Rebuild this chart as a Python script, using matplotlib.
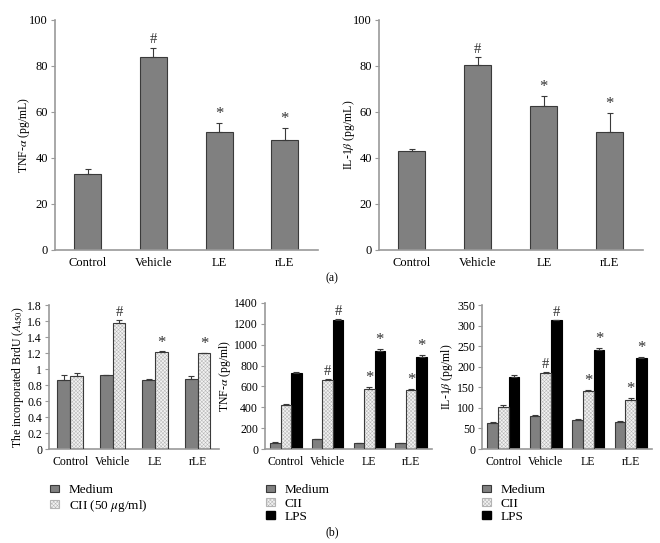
import matplotlib.pyplot as plt
import numpy as np
from matplotlib.patches import Patch

plt.rcParams['font.family'] = ['Liberation Serif', 'DejaVu Serif']
plt.rcParams['mathtext.fontset'] = 'stix'
plt.rcParams['hatch.linewidth'] = 0.35

groups = ['Control', 'Vehicle', 'LE', 'rLE']

# (a) single-series panels
tnf_a = [33, 84, 51.5, 48]
tnf_a_err = [2, 4, 3.5, 5]
tnf_a_marks = ['', '#', '*', '*']
il1_a = [43, 80.5, 62.5, 51.5]
il1_a_err = [1, 3.5, 4.5, 8]
il1_a_marks = ['', '#', '*', '*']

# (b) BrdU
brdu_medium = [0.86, 0.92, 0.86, 0.88]
brdu_medium_err = [0.07, 0.01, 0.02, 0.03]
brdu_cii = [0.91, 1.58, 1.21, 1.20]
brdu_cii_err = [0.04, 0.03, 0.01, 0.005]
brdu_cii_marks = ['', '#', '*', '*']

# (b) TNF-a
tnf_medium = [60, 95, 55, 55]
tnf_medium_err = [3, 5, 3, 3]
tnf_cii = [425, 665, 580, 570]
tnf_cii_err = [8, 10, 18, 10]
tnf_lps = [730, 1235, 940, 885]
tnf_lps_err = [8, 15, 20, 15]
tnf_cii_marks = ['', '#', '*', '*']
tnf_lps_marks = ['', '#', '*', '*']

# (b) IL-1b
il1_medium = [63, 80, 71, 65]
il1_medium_err = [3, 3, 2, 3]
il1_cii = [103, 184, 141, 119]
il1_cii_err = [5, 3, 2, 5]
il1_lps = [175, 313, 241, 221]
il1_lps_err = [5, 0.5, 5, 3]
il1_cii_marks = ['', '#', '*', '*']
il1_lps_marks = ['', '#', '*', '*']

GRAY = '#808080'
EDGE = '#3a3a3a'
HATCHC = '#b4b4b4'
AXC = '#9a9a9a'
HATCH = 'xxxxxxxxx'


def style(ax, ymax, step, fmt=None, fs=8):
    ax.set_ylim(0, ymax)
    ax.set_xlim(-0.5, 3.5)
    ax.spines['top'].set_visible(False)
    ax.spines['right'].set_visible(False)
    ax.spines['left'].set_color(AXC)
    ax.spines['bottom'].set_color(AXC)
    ax.spines['left'].set_linewidth(1.2)
    ax.spines['bottom'].set_linewidth(1.2)
    ticks = np.arange(0, ymax + step / 2, step)
    ax.set_yticks(ticks)
    if fmt:
        ax.set_yticklabels([fmt(t) for t in ticks])
    ax.tick_params(axis='y', length=3, color=AXC, labelsize=fs, pad=2)
    ax.tick_params(axis='x', length=0, labelsize=fs, pad=5)
    ax.set_xticks(range(4))
    ax.set_xticklabels(groups)


def bars(ax, x, vals, errs, w, kind, marks=None, fs=9):
    if kind == 'medium':
        ax.bar(x, vals, w, color=GRAY, edgecolor=EDGE, linewidth=0.8, zorder=2)
    elif kind == 'cii':
        ax.bar(x, vals, w, color='#f2f2f2', edgecolor=HATCHC, hatch=HATCH, linewidth=0, zorder=2)
        ax.bar(x, vals, w, fill=False, edgecolor=EDGE, linewidth=0.8, zorder=3)
    else:
        ax.bar(x, vals, w, color='black', edgecolor='black', linewidth=0.8, zorder=2)
    ax.errorbar(x, vals, yerr=[np.zeros(len(vals)), errs], fmt='none', ecolor=EDGE,
                elinewidth=0.8, capsize=2.5, capthick=0.8, zorder=4)
    if marks:
        top = ax.get_ylim()[1]
        for xi, v, e, m in zip(x, vals, errs, marks):
            if m:
                ax.text(xi, v + e + top * 0.005, m, ha='center', va='bottom',
                        fontsize=fs if m == '*' else fs - 1.5, color='#333333')


fig = plt.figure(figsize=(6.6, 5.43), dpi=100)
x = np.arange(4)

# (a) left
ax1 = fig.add_axes([0.0833, 0.5396, 0.398, 0.4236])
style(ax1, 100, 20, fs=9)
bars(ax1, x, tnf_a, tnf_a_err, 0.41, 'medium', tnf_a_marks, fs=12)
ax1.set_ylabel(r'TNF-$\alpha$ (pg/mL)', fontsize=8.5)
ax1.yaxis.set_label_coords(-0.086, 0.5)

# (a) right
ax2 = fig.add_axes([0.574, 0.5396, 0.400, 0.4236])
style(ax2, 100, 20, fs=9)
bars(ax2, x, il1_a, il1_a_err, 0.41, 'medium', il1_a_marks, fs=12)
ax2.set_ylabel(r'IL-1$\beta$ (pg/mL)', fontsize=8.5)
ax2.yaxis.set_label_coords(-0.082, 0.5)

fig.text(0.503, 0.487, '(a)', ha='center', va='center', fontsize=8.5)

# (b) BrdU
ax3 = fig.add_axes([0.0742, 0.1731, 0.2576, 0.2652])
style(ax3, 1.8, 0.2, fmt=lambda t: ('%g' % round(t, 1)), fs=8.5)
w = 0.3
bars(ax3, x - w / 2, brdu_medium, brdu_medium_err, w, 'medium')
bars(ax3, x + w / 2, brdu_cii, brdu_cii_err, w, 'cii', brdu_cii_marks, fs=12)
ax3.set_ylabel(r'The incorporated BrdU ($A_{450}$)', fontsize=8.5)
ax3.yaxis.set_label_coords(-0.135, 0.5)

# (b) TNF-a
ax4 = fig.add_axes([0.4015, 0.1731, 0.253, 0.2689])
style(ax4, 1400, 200, fs=8.5)
w = 0.25
bars(ax4, x - w, tnf_medium, tnf_medium_err, w, 'medium')
bars(ax4, x, tnf_cii, tnf_cii_err, w, 'cii', tnf_cii_marks, fs=12)
bars(ax4, x + w, tnf_lps, tnf_lps_err, w, 'lps', tnf_lps_marks, fs=12)
ax4.set_ylabel(r'TNF-$\alpha$ (pg/ml)', fontsize=8.5)
ax4.yaxis.set_label_coords(-0.19, 0.5)

# (b) IL-1b
ax5 = fig.add_axes([0.7303, 0.1731, 0.2576, 0.2652])
style(ax5, 350, 50, fs=8.5)
bars(ax5, x - w, il1_medium, il1_medium_err, w, 'medium')
bars(ax5, x, il1_cii, il1_cii_err, w, 'cii', il1_cii_marks, fs=12)
bars(ax5, x + w, il1_lps, il1_lps_err, w, 'lps', il1_lps_marks, fs=12)
ax5.set_ylabel(r'IL-1$\beta$ (pg/ml)', fontsize=8.5)
ax5.yaxis.set_label_coords(-0.16, 0.5)

# legends
med_h = Patch(facecolor=GRAY, edgecolor=EDGE, linewidth=0.8)
cii_h = Patch(facecolor='#f2f2f2', edgecolor=HATCHC, hatch=HATCH, linewidth=0.8)
lps_h = Patch(facecolor='black', edgecolor='black')
leg_kw = dict(frameon=False, fontsize=9.5, handlelength=0.7, handleheight=0.5,
              handletextpad=0.7, labelspacing=0.1, loc='upper left', borderaxespad=0)
fig.legend([med_h, cii_h], ['Medium', r'CII (50 $\mu$g/ml)'],
           bbox_to_anchor=(0.068, 0.118), **leg_kw)
fig.legend([med_h, cii_h, lps_h], ['Medium', 'CII', 'LPS'],
           bbox_to_anchor=(0.395, 0.118), **leg_kw)
fig.legend([med_h, cii_h, lps_h], ['Medium', 'CII', 'LPS'],
           bbox_to_anchor=(0.722, 0.118), **leg_kw)

fig.text(0.503, 0.02, '(b)', ha='center', va='center', fontsize=8.5)

fig.savefig('out.png', dpi=100)
